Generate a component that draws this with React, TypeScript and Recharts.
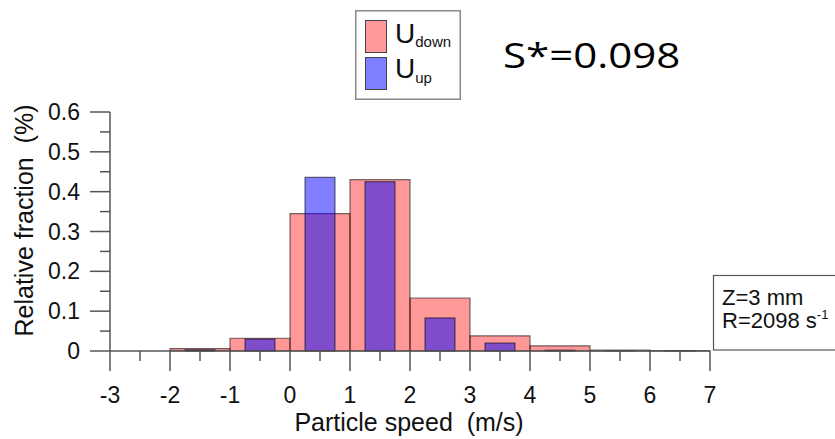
import { Bar, ComposedChart, Legend, XAxis, YAxis } from "recharts";

// histogram bins (m/s), bin width 1
const binCenters = [-2.5, -1.5, -0.5, 0.5, 1.5, 2.5, 3.5, 4.5, 5.5, 6.5];
const uDown = [0, 0.006, 0.032, 0.345, 0.43, 0.133, 0.038, 0.013, 0.002, 0.001];
const uUp = [0, 0.003, 0.03, 0.436, 0.425, 0.083, 0.02, 0.002, 0.001, 0.001];

const majorXTicks = [-3, -2, -1, 0, 1, 2, 3, 4, 5, 6, 7];
const minorXTicks = [-2.5, -1.5, -0.5, 0.5, 1.5, 2.5, 3.5, 4.5, 5.5, 6.5];
const majorYTicks = [0, 0.1, 0.2, 0.3, 0.4, 0.5, 0.6];
const minorYTicks = [0.05, 0.15, 0.25, 0.35, 0.45, 0.55];

const legendSubs: Record<string, string> = { uDown: "down", uUp: "up" };

const data = binCenters.map((x, i) => ({ x, uDown: uDown[i], uUp: uUp[i] }));

const FONT = "'Liberation Sans', Arial, sans-serif";
const AXIS = "#555";
const PINK = "rgba(255,0,0,0.4)";
const BLUE = "rgba(0,0,255,0.5)";
const EDGE = "rgba(0,0,0,0.55)";

function XTick({ x, y, payload }: any) {
  const major = majorXTicks.includes(payload.value);
  return (
    <g>
      <line x1={x} x2={x} y1={y} y2={y + (major ? 20 : 10)} stroke={AXIS} strokeWidth={1.5} />
      {major && (
        <text x={x} y={y + 52} textAnchor="middle" fontSize={23} fontFamily={FONT} fill="#111">
          {payload.value}
        </text>
      )}
    </g>
  );
}

function YTick({ x, y, payload }: any) {
  const major = majorYTicks.includes(payload.value);
  return (
    <g>
      <line x1={x - (major ? 20 : 10)} x2={x} y1={y} y2={y} stroke={AXIS} strokeWidth={1.5} />
      {major && (
        <text x={x - 30} y={y + 8} textAnchor="end" fontSize={23} fontFamily={FONT} fill="#111">
          {payload.value}
        </text>
      )}
    </g>
  );
}

function HalfBar({ x, y, width, height, fill, stroke, strokeWidth }: any) {
  if (!height) return null;
  return <rect x={x + width / 4} y={y} width={width / 2} height={height} fill={fill} stroke={stroke} strokeWidth={strokeWidth} />;
}

function XTitle({ viewBox }: any) {
  return (
    <text x={viewBox.x + viewBox.width / 2 - 1} y={viewBox.y + 80} textAnchor="middle" fontSize={25}
      fontFamily={FONT} fill="#111" xmlSpace="preserve" style={{ whiteSpace: "pre" }}>
      Particle speed  (m/s)
    </text>
  );
}

function YTitle({ viewBox }: any) {
  const cx = viewBox.x - 17;
  const cy = viewBox.y + viewBox.height / 2 - 11;
  return (
    <text x={cx} y={cy} transform={`rotate(-90 ${cx} ${cy})`} textAnchor="middle" fontSize={25}
      fontFamily={FONT} fill="#111" xmlSpace="preserve" style={{ whiteSpace: "pre" }}>
      Relative fraction  (%)
    </text>
  );
}

function LegendBox({ payload }: any) {
  return (
    <svg width={106} height={90} style={{ display: "block" }}>
      <rect x={0.75} y={0.75} width={104.5} height={88.5} fill="#fff" stroke="#888" strokeWidth={1.5} />
      {(payload ?? []).map((entry: any, i: number) => (
        <g key={entry.dataKey}>
          <rect x={10.5} y={10.5 + i * 37} width={21} height={32} fill={entry.color} stroke="#444" strokeWidth={1} />
          <text x={40} y={33 + i * 35} fontSize={28} fontFamily={FONT} fill="#111">
            U
            <tspan fontSize={15} dy={i === 0 ? 4 : 5}>{legendSubs[entry.dataKey]}</tspan>
          </text>
        </g>
      ))}
    </svg>
  );
}

export default function App() {
  return (
    <div style={{ position: "absolute", left: 0, top: 0, width: 835, height: 439, background: "#fff" }}>
      <ComposedChart
        width={835}
        height={439}
        data={data}
        margin={{ top: 112, right: 125, bottom: 28, left: 50 }}
        barCategoryGap={0}
        barGap={0}
      >
        <XAxis
          xAxisId="main"
          dataKey="x"
          type="number"
          domain={[-3, 7]}
          tickCount={11}
          ticks={[...majorXTicks, ...minorXTicks].sort((a, b) => a - b)}
          interval={0}
          height={60}
          tickSize={0}
          tickMargin={0}
          tickLine={false}
          axisLine={{ stroke: AXIS, strokeWidth: 1.5 }}
          tick={<XTick />}
          label={{ content: <XTitle /> }}
        />
        <XAxis xAxisId="up" dataKey="x" type="number" domain={[-3, 7]} tickCount={11} hide />
        <YAxis
          type="number"
          domain={[0, 0.6]}
          ticks={[...majorYTicks, ...minorYTicks].sort((a, b) => a - b)}
          interval={0}
          width={60}
          tickSize={0}
          tickMargin={0}
          tickLine={false}
          axisLine={{ stroke: AXIS, strokeWidth: 1.5 }}
          tick={<YTick />}
          label={{ content: <YTitle /> }}
        />
        <Legend
          layout="vertical"
          align="center"
          verticalAlign="middle"
          wrapperStyle={{ left: 355, top: 10, width: 106, height: 90 }}
          content={<LegendBox />}
        />
        <Bar xAxisId="main" dataKey="uDown" fill={PINK} stroke={EDGE} strokeWidth={1.2} isAnimationActive={false} />
        <Bar xAxisId="up" dataKey="uUp" fill={BLUE} stroke={EDGE} strokeWidth={1.2} shape={<HalfBar />} isAnimationActive={false} />
      </ComposedChart>
      <svg width={835} height={439} style={{ position: "absolute", left: 0, top: 0, pointerEvents: "none" }}>
        <text x={503} y={68} fontSize={35} fontFamily="'Open Sans', sans-serif" fill="#000"
          transform="translate(503 0) scale(1.2 1) translate(-503 0)">
          S*=0.098
        </text>
        <rect x={713.5} y={275.5} width={130} height={74.5} fill="#fff" stroke={AXIS} strokeWidth={1.2} />
        <text x={722} y={305} fontSize={22} fontFamily={FONT} fill="#111">Z=3 mm</text>
        <text x={722} y={328} fontSize={22} fontFamily={FONT} fill="#111">
          R=2098 s<tspan fontSize={13} dy={-9}>-1</tspan>
        </text>
      </svg>
    </div>
  );
}
